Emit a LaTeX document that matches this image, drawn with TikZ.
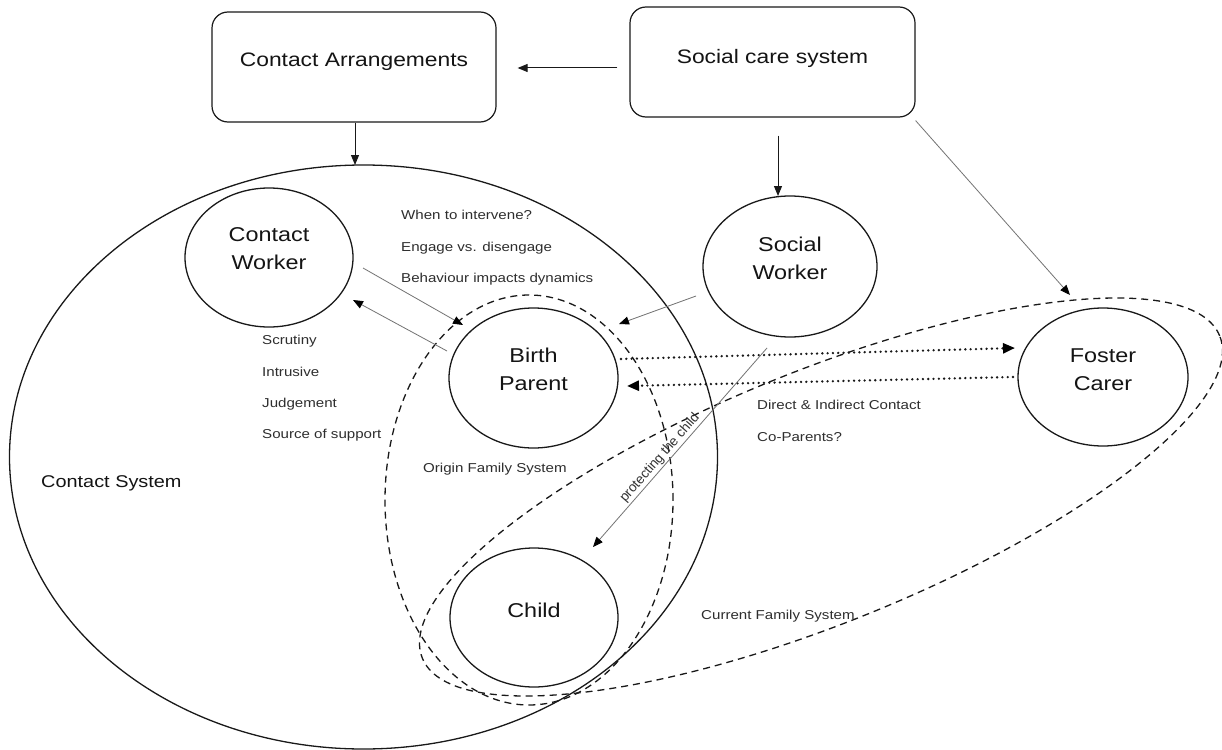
\documentclass[tikz,border=0pt]{standalone}
\usepackage{fontspec}
\setmainfont{Liberation Sans}
\usetikzlibrary{arrows.meta,shapes.geometric}
% widen lettering a little, as in the original layout
\newcommand{\xstr}[1]{\scalebox{1.17}[1]{#1}}
\begin{document}
\begin{tikzpicture}[x=1pt,y=-1pt,
  ring/.style={ellipse, draw=black!90, line width=1.3pt, inner sep=0pt, outer sep=0pt},
  boxnode/.style={draw=black!90, line width=1.2pt, rounded corners=16pt, inner sep=0pt,
                  minimum width=284pt, minimum height=110pt},
  bigtxt/.style={font=\fontsize{20}{28}\selectfont, align=center, inner sep=0pt, text=black!92},
  boxtxt/.style={font=\fontsize{19.5}{24}\selectfont, inner sep=0pt, text=black!92},
  note/.style={font=\fontsize{12.9}{15}\selectfont, text=black!82, anchor=base west, inner sep=0pt},
  group/.style={ellipse, draw=black!90, line width=1.3pt, dash pattern=on 7pt off 5pt,
                inner sep=0pt, outer sep=0pt},
  grayarrow/.style={draw=black!55, line width=0.8pt, -{Triangle[length=10pt,width=8pt,color=black]}},
  link/.style={draw=black!90, line width=1pt, -{Triangle[length=10pt,width=8pt]}},
  dots/.style={draw=black!90, line width=2.6pt, line cap=round, dash pattern=on 0pt off 5.3pt,
               -{Triangle[length=12pt,width=10pt,color=black]}},
]
\fill[white] (0,0) rectangle (1222,749);
\useasboundingbox (0,0) rectangle (1222,749);

% top boxes
\node[boxnode] (ca) at (354,67) {};
\node[boxtxt] (catxt) at ([yshift=5pt]ca.center) {\xstr{Contact Arrangements}};
\node[boxnode, minimum width=285pt] (sc) at (772.5,62) {};
\node[boxtxt] (sctxt) at ([yshift=4pt]sc.center) {\xstr{Social care system}};

% contact system
\node[ring, minimum width=708pt, minimum height=584pt] (csys) at (363.5,457) {};
\node[font=\fontsize{17}{20}\selectfont, anchor=base west, inner sep=0pt, text=black!92]
  (csystxt) at (41,487) {\xstr{Contact System}};

% family system groupings
\node[group, minimum width=288pt, minimum height=410pt] (ofs) at (529,500) {};
\node[group, minimum width=860pt, minimum height=252pt, rotate=22] (cfs) at (821,497) {};

% people
\node[ring, minimum width=168pt, minimum height=139pt] (cw) at (269,257.5) {};
\node[bigtxt] (cwt) at ([yshift=8.5pt]cw.center) {\xstr{Contact}\\\xstr{Worker}};
\node[ring, minimum width=169pt, minimum height=140pt] (bp) at (533.5,378) {};
\node[bigtxt] (bpt) at ([yshift=9pt]bp.center) {\xstr{Birth}\\\xstr{Parent}};
\node[ring, minimum width=174pt, minimum height=141pt] (sw) at (790,266.5) {};
\node[bigtxt] (swt) at ([yshift=8.5pt]sw.center) {\xstr{Social}\\\xstr{Worker}};
\node[ring, minimum width=170pt, minimum height=138pt] (fc) at (1103,377) {};
\node[bigtxt] (fct) at ([yshift=7.5pt]fc.center) {\xstr{Foster}\\\xstr{Carer}};
\node[ring, minimum width=168pt, minimum height=139pt] (ch) at (534,617.5) {};
\node[bigtxt] (cht) at ([yshift=7.5pt]ch.center) {\xstr{Child}};

% notes
\node[note] (n1) at (401,219.5) {\xstr{When to intervene?}};
\node[note] (n2) at (401,251) {\xstr{Engage vs. disengage}};
\node[note] (n3) at (401,282.5) {\xstr{Behaviour impacts dynamics}};
\node[note] (n4) at (262,344.5) {\xstr{Scrutiny}};
\node[note] (n5) at (262,376.5) {\xstr{Intrusive}};
\node[note] (n6) at (262,407.5) {\xstr{Judgement}};
\node[note] (n7) at (262,438.5) {\xstr{Source of support}};
\node[note] (n8) at (423,472.5) {\xstr{Origin Family System}};
\node[note] (n9) at (757,409.5) {\xstr{Direct \& Indirect Contact}};
\node[note] (n10) at (757,441.5) {\xstr{Co-Parents?}};
\node[note] (n11) at (701,619.5) {\xstr{Current Family System}};

% connectors
\draw[link] ([shift={(-12,6)}]sc.west) -- ([shift={(21,1)}]ca.east);
\draw[link] ([xshift=1pt]ca.south) -- ([xshift=1pt]ca.south |- csys.north);
\draw[link] ([shift={(5.5,18)}]sc.south) -- ([xshift=-12pt]sw.north);
\draw[grayarrow] ([shift={(0,3)}]sc.south east) -- ([shift={(-33,-82)}]fc.center);

\draw[grayarrow] ([shift={(94,10.5)}]cw.center) -- ([shift={(-70.5,-53)}]bp.center);
\draw[grayarrow] ([shift={(-86.5,-27)}]bp.center) -- ([shift={(84,42.5)}]cw.center);
\draw[grayarrow] ([shift={(-94,29.5)}]sw.center) -- ([shift={(85.5,-54)}]bp.center);

\draw[dots] ([shift={(87.5,-19)}]bp.center) -- ([shift={(-88,-29)}]fc.center);
\draw[dots] ([shift={(-90,0)}]fc.center) -- ([shift={(93.5,8)}]bp.center);

\draw[grayarrow] ([shift={(-23,81.5)}]sw.center) -- ([shift={(59,-70.5)}]ch.center)
  node[pos=0.58, sloped, above=1.5pt, inner sep=0pt, font=\fontsize{13.5}{16}\selectfont,
       text=black!80] (prot) {protecting the child};
\end{tikzpicture}
\end{document}
